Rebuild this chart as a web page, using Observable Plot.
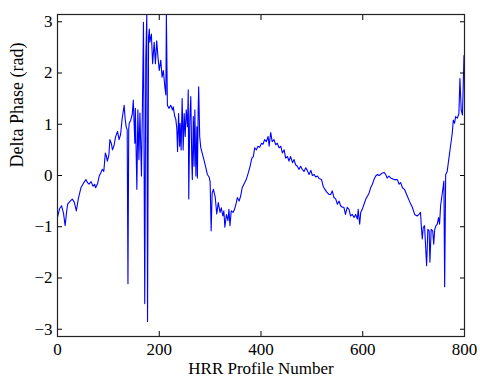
<!DOCTYPE html>
<html><head><meta charset="utf-8">
<script src="https://cdn.jsdelivr.net/npm/d3@7"></script>
<script src="https://cdn.jsdelivr.net/npm/@observablehq/plot@0.6"></script>
<style>body{margin:0;background:#fff}</style>
</head><body><div id="chart"></div>
<script>
const profile = [0,4,8,12,15,18,20,25,29,33,37,41,46,51,56,59,62,66,70,73,75,79,82,85,88,91,94,96,98,101,103,106,108,111,114,118,121,124,127,131,133,135,137,138.5,140,141,144,147,149,152,153,156,158,160,162,165,167,169,171.5,173.5,175.5,177,179,180.5,181.5,184.5,187,190,192.5,195,197.5,200,203,205.5,208,211,213,214,216,219,222.5,226,227.5,230.5,232.5,234.5,236,238,240,241,243,245,247,249,251,253,255.5,257,258,260,262,264,265,267,268.5,270,272,274,275,276.5,277.5,279.5,281.5,285,288,291,294.5,298,300,302,304,306.5,310,313,316,319.5,322,325,327,329,332,335,337,339,341.5,345,348,351.5,353.5,357,360,363,366.5,371,375,378.5,382,385,387.5,391,394,397.5,401,404,407,410.5,414,416,419,422,425.5,429,432,435.5,439,442,445.5,448.5,452,455,458,462,465,468,471.5,474.5,478,481,484.5,488,491,494.5,498,501,504.5,507.5,511,514,519,522.5,525,529,533.5,537,540,543.5,547,550,553.5,556.5,560,563,566,569.5,573,576,579.5,583,586,589.5,591,594,596,599,602.5,606,609.5,612.5,615.5,619,622,625.5,629,632,635,638.5,642,645,648,651.5,655,661.5,668,671.5,674.5,678,682,687.5,693,697.5,702,707,710.5,713.5,715.5,717,719,721.5,723.5,725.5,728,730.5,732,734.5,737.5,739.5,741.5,744,746.5,749,751,753,756,759.5,761,763,766,769,772.5,776,778,780.5,782.5,786,789,791,793.5,796,799];
const phase = [-0.81,-0.65,-0.59,-0.75,-0.98,-0.70,-0.56,-0.50,-0.46,-0.52,-0.69,-0.45,-0.24,-0.15,-0.08,-0.14,-0.17,-0.12,-0.21,-0.17,-0.24,-0.15,-0.01,0.05,0.12,0.08,0.44,0.38,0.28,0.40,0.70,0.62,0.50,0.58,0.75,0.86,0.70,0.80,1.10,1.37,1.10,0.95,0.89,-2.11,0.90,1.02,1.08,1.20,1.47,0.63,1.31,-0.27,1.28,0.31,1.22,-0.01,1.41,2.99,-2.50,2.25,3.14,-2.85,2.70,2.86,2.60,2.76,2.18,2.60,2.18,2.63,2.31,2.05,2.25,1.92,2.05,1.73,1.57,3.14,1.37,1.31,1.37,1.28,1.34,1.15,1.10,0.92,0.47,1.21,0.57,1.02,0.50,1.50,0.50,1.21,0.76,1.28,0.95,1.67,-0.46,1.08,1.54,0.25,-0.08,1.15,0.18,1.28,-0.01,0.95,-0.05,1.28,1.73,0.76,0.55,0.41,0.30,0.18,0.02,-0.03,-0.12,-1.08,-0.34,-0.27,-0.42,-0.75,-0.53,-0.72,-0.63,-0.79,-0.69,-1.01,-0.76,-0.88,-0.66,-0.98,-0.69,-0.72,-0.66,-0.53,-0.43,-0.50,-0.40,-0.24,-0.17,-0.08,0.05,0.18,0.34,0.37,0.54,0.50,0.57,0.55,0.63,0.61,0.70,0.66,0.76,0.57,0.84,0.66,0.70,0.60,0.63,0.54,0.57,0.44,0.50,0.34,0.37,0.28,0.37,0.25,0.31,0.21,0.18,0.12,0.18,0.12,0.08,0.15,0.10,0.02,0.10,0.00,0.02,-0.03,-0.01,-0.06,-0.08,-0.22,-0.26,-0.32,-0.37,-0.37,-0.30,-0.43,-0.46,-0.56,-0.50,-0.59,-0.62,-0.62,-0.76,-0.62,-0.66,-0.79,-0.76,-0.82,-0.76,-0.85,-0.66,-0.95,-0.72,-0.66,-0.56,-0.46,-0.40,-0.34,-0.24,-0.17,-0.08,-0.01,0.02,0.00,0.02,0.05,0.06,0.02,-0.05,-0.01,-0.05,-0.08,-0.08,-0.17,-0.14,-0.24,-0.27,-0.40,-0.53,-0.62,-0.76,-0.79,-0.76,-0.72,-1.05,-1.24,-1.01,-0.98,-1.37,-1.76,-1.05,-1.08,-1.69,-1.05,-1.08,-1.34,-1.05,-0.98,-0.95,-0.82,-0.95,-0.59,-0.37,-0.11,-2.17,0.02,0.08,0.31,0.57,0.83,1.08,1.02,1.15,1.12,1.21,1.89,1.28,1.18,2.34];
const xTicks = [0, 200, 400, 600, 800];
const yTicks = [-3, -2, -1, 0, 1, 2, 3];
const xLabel = "HRR Profile Number";
const yLabel = "Delta Phase (rad)";

const data = profile.map((x, i) => ({x, y: phase[i]}));
const fmt = d3.format("d");

const chart = Plot.plot({
  width: 480, height: 377,
  marginLeft: 57, marginRight: 16, marginTop: 14, marginBottom: 41,
  style: {fontFamily: "'Liberation Serif', 'DejaVu Serif', serif", fontSize: "17px", background: "white", color: "black"},
  x: {domain: [0, 800], label: null},
  y: {domain: [-Math.PI, Math.PI], label: null},
  marks: [
    Plot.line(data, {x: "x", y: "y", stroke: "#0000ff", strokeWidth: 1.1, clip: true}),
    Plot.axisX(xTicks, {anchor: "bottom", tickSize: 0, tickPadding: 6, tickFormat: fmt, label: null, fill: "black"}),
    Plot.axisY(yTicks, {anchor: "left", tickSize: 0, tickPadding: 5, tickFormat: fmt, label: null, fill: "black"}),
    Plot.axisX(xTicks, {anchor: "bottom", tickSize: -5, text: null, label: null, stroke: "black"}),
    Plot.axisX(xTicks, {anchor: "top", tickSize: -5, text: null, label: null, stroke: "black"}),
    Plot.axisY(yTicks, {anchor: "left", tickSize: -5, text: null, label: null, stroke: "black"}),
    Plot.axisY(yTicks, {anchor: "right", tickSize: -5, text: null, label: null, stroke: "black"}),
    Plot.frame({stroke: "#222", strokeWidth: 1.2}),
    Plot.text([xLabel], {frameAnchor: "bottom", dy: 37, fontSize: 17, fill: "black"}),
    Plot.text([yLabel], {frameAnchor: "left", dx: -40, dy: -8, rotate: -90, fontSize: 18, fill: "black"})
  ]
});
document.getElementById("chart").append(chart);
</script>
</body></html>
